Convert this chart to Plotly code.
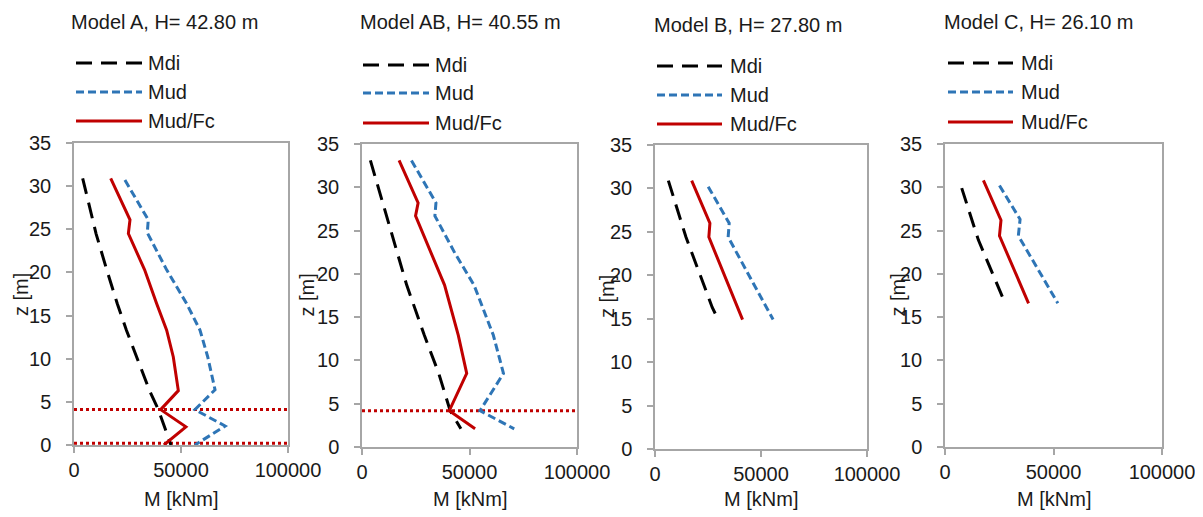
import plotly.graph_objects as go

# ---------------- data ----------------
titles = ["Model A, H= 42.80 m", "Model AB, H= 40.55 m", "Model B, H= 27.80 m", "Model C, H= 26.10 m"]
series_names = ["Mdi", "Mud", "Mud/Fc"]
x_tickvals = [0, 50000, 100000]
x_ticktext = ["0", "50000", "100000"]
y_tickvals = [0, 5, 10, 15, 20, 25, 30, 35]

# Model A
A_z = [30.9, 26.1, 24.5, 20.3, 16.4, 13.3, 10.2, 6.3, 4.1, 2.1, 0.0]
A_mdi = [4050, 8800, 10300, 15300, 20200, 24500, 29200, 35300, 39400, 42300, 45300]
A_z_mud = [30.7, 26.1, 24.6, 20.3, 16.4, 13.3, 10.2, 6.4, 4.1, 2.2, 0.0]
A_mud = [23800, 34700, 34250, 43300, 52600, 58900, 62500, 65900, 56500, 70600, 56500]
A_mudfc = [17150, 26170, 25400, 33000, 38600, 43300, 46400, 48750, 40500, 52300, 42000]
A_dotted_z = [4.1, 0.2]

# Model AB
AB_z = [33.1, 28.2, 26.7, 22.4, 18.7, 12.9, 8.5, 4.2, 2.1]
AB_mdi = [3900, 9700, 11300, 16400, 20800, 29000, 35700, 41000, 46000]
AB_mud = [23000, 34400, 33900, 43200, 52100, 61100, 65800, 54900, 70800]
AB_mudfc = [17250, 26100, 24900, 32000, 38400, 44800, 48700, 40600, 52600]
AB_dotted_z = [4.2]

# Model B
B_z_mdi = [30.9, 26.0, 24.4, 16.3, 14.9]
B_mdi = [6300, 12600, 14600, 27000, 29800]
B_z_mud = [30.2, 26.0, 24.4, 16.3, 14.9]
B_mud = [25100, 35000, 34500, 52300, 55700]
B_z_fc = [30.9, 26.0, 24.4, 16.3, 14.9]
B_mudfc = [17300, 25900, 25400, 39200, 41300]

# Model C
C_z_mdi = [29.9, 23.9, 16.6]
C_mdi = [7700, 15400, 27700]
C_z_mud = [30.2, 26.3, 24.4, 16.6]
C_mud = [25100, 34600, 33800, 52000]
C_z_fc = [30.8, 26.2, 24.4, 16.6]
C_mudfc = [17700, 25800, 25100, 38500]

# ---------------- style ----------------
PAGE_OFF = 8                      # default page body margin
W, H = 1203 - PAGE_OFF, 517 - PAGE_OFF
FONT = "Liberation Sans, Arial, sans-serif"
TXT = "#1a1a1a"
AXC = "#a6a6a6"
BLACK = "#000000"
BLUE = "#2E75B6"
RED = "#C00000"
DASH_MDI = "16px,9px"
DASH_MUD = "8px,4px"
DASH_DOT = "3px,3px"
LW = 3


def px(x):
    return (x - PAGE_OFF) / W


def py(y):
    return 1 - (y - PAGE_OFF) / H


# plot area boxes in page pixels (x0, x1, ytop, ybottom)
boxes = [(74, 288, 143, 445), (362, 577, 144, 447), (655, 867, 145, 449), (945, 1162, 144, 447)]

panels = [
    dict(mdi=(A_z, A_mdi), mud=(A_z_mud, A_mud), fc=(A_z, A_mudfc), dotted=A_dotted_z),
    dict(mdi=(AB_z, AB_mdi), mud=(AB_z, AB_mud), fc=(AB_z, AB_mudfc), dotted=AB_dotted_z),
    dict(mdi=(B_z_mdi, B_mdi), mud=(B_z_mud, B_mud), fc=(B_z_fc, B_mudfc), dotted=[]),
    dict(mdi=(C_z_mdi, C_mdi), mud=(C_z_mud, C_mud), fc=(C_z_fc, C_mudfc), dotted=[]),
]

fig = go.Figure()
annotations = []
shapes = []

legend_lines = [(76, 142, 146), (363, 429, 433), (657, 722, 728), (948, 1013, 1019)]
legend_rows = [(63, 92, 121), (65, 93, 123), (66, 95, 124), (63, 92, 122)]
title_pos = [(69, 22), (358, 22), (652, 25), (942, 22)]
ztitle_x = [21, 306, 607, 897]

for i, (p, box) in enumerate(zip(panels, boxes)):
    n = "" if i == 0 else str(i + 1)
    xa, ya = "x" + n, "y" + n
    x0, x1, yt, yb = box

    for z in p["dotted"]:
        fig.add_trace(go.Scatter(x=[0, 100000], y=[z, z], xaxis=xa, yaxis=ya, mode="lines",
                                 line=dict(color=RED, width=LW, dash=DASH_DOT), showlegend=False,
                                 hoverinfo="skip"))
    fig.add_trace(go.Scatter(x=p["mdi"][1], y=p["mdi"][0], xaxis=xa, yaxis=ya, mode="lines",
                             name="Mdi", line=dict(color=BLACK, width=LW, dash=DASH_MDI), showlegend=False))
    fig.add_trace(go.Scatter(x=p["mud"][1], y=p["mud"][0], xaxis=xa, yaxis=ya, mode="lines",
                             name="Mud", line=dict(color=BLUE, width=LW, dash=DASH_MUD), showlegend=False))
    fig.add_trace(go.Scatter(x=p["fc"][1], y=p["fc"][0], xaxis=xa, yaxis=ya, mode="lines",
                             name="Mud/Fc", line=dict(color=RED, width=LW), showlegend=False))

    common = dict(showline=True, mirror=True, linecolor=AXC, linewidth=1.5,
                  ticks="outside", ticklen=6, tickcolor=AXC, tickwidth=1.5,
                  showgrid=False, zeroline=False, automargin=False,
                  tickfont=dict(family=FONT, size=20, color=TXT))
    fig.layout["xaxis" + n] = dict(domain=[px(x0), px(x1)], range=[0, 100000], anchor=ya,
                                   tickvals=x_tickvals, ticktext=x_ticktext, **common)
    fig.layout["yaxis" + n] = dict(domain=[py(yb), py(yt)], range=[0, 35], anchor=xa,
                                   tickvals=y_tickvals, ticklabelstandoff=11, **common)

    tx, ty = title_pos[i]
    annotations.append(dict(text=titles[i], x=px(tx), y=py(ty), xref="paper", yref="paper",
                            xanchor="left", yanchor="middle", showarrow=False,
                            font=dict(family=FONT, size=20, color=TXT)))
    annotations.append(dict(text="M [kNm]", x=px((x0 + x1) / 2), y=py(499), xref="paper", yref="paper",
                            xanchor="center", yanchor="middle", showarrow=False,
                            font=dict(family=FONT, size=20, color=TXT)))
    annotations.append(dict(text="z [m]", x=px(ztitle_x[i]), y=py((yt + yb) / 2), xref="paper", yref="paper",
                            xanchor="center", yanchor="middle", showarrow=False, textangle=-90,
                            font=dict(family=FONT, size=20, color=TXT)))
    lx0, lx1, tx0 = legend_lines[i]
    styles = [dict(color=BLACK, width=LW, dash=DASH_MDI), dict(color=BLUE, width=LW, dash=DASH_MUD),
              dict(color=RED, width=LW)]
    for name, st, ry in zip(series_names, styles, legend_rows[i]):
        shapes.append(dict(type="line", xref="paper", yref="paper", x0=px(lx0), x1=px(lx1),
                           y0=py(ry), y1=py(ry), line=st))
        annotations.append(dict(text=name, x=px(tx0), y=py(ry), xref="paper", yref="paper",
                                xanchor="left", yanchor="middle", showarrow=False,
                                font=dict(family=FONT, size=20, color=TXT)))

fig.update_layout(width=W, height=H, margin=dict(l=0, r=0, t=0, b=0, autoexpand=False),
                  paper_bgcolor="white", plot_bgcolor="white",
                  annotations=annotations, shapes=shapes, showlegend=False)

fig.write_html("out.html")
